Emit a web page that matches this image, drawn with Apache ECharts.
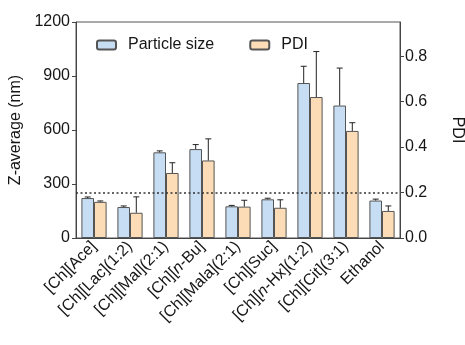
<!DOCTYPE html>
<html>
<head>
<meta charset="utf-8">
<script src="https://cdn.jsdelivr.net/npm/echarts@6/dist/echarts.min.js"></script>
<style>
  html, body { margin: 0; padding: 0; background: #fff; }
  #chart { width: 465px; height: 345px; }
</style>
</head>
<body>
<div id="chart"></div>
<script>
var categories = ['[Ch][Ace]', '[Ch][Lac](1:2)', '[Ch][Mal](2:1)', '[Ch][{i|n}-Bu]', '[Ch][Mala](2:1)',
    '[Ch][Suc]', '[Ch][{i|n}-Hx](1:2)', '[Ch][Cit](3:1)', 'Ethanol'];
var sizeValues = [222, 172, 476, 494, 176, 215, 861, 736, 208];
var sizeErrors = [6, 6, 8, 25, 5, 6, 93, 208, 8];
var pdiValues = [0.159, 0.111, 0.286, 0.341, 0.138, 0.133, 0.620, 0.471, 0.119];
var pdiErrors = [0.004, 0.07, 0.045, 0.095, 0.028, 0.035, 0.2, 0.036, 0.022];
var leftTicks = [0, 300, 600, 900, 1200];
var rightTicks = [0, 0.2, 0.4, 0.6, 0.8];
var pdiLimit = 0.2;

var chart = echarts.init(document.getElementById('chart'));
var barW = 12.6;
var font = 'Liberation Sans, Arial, sans-serif';
var ink = '#161616';

function errData(vals, errs) {
    return vals.map(function (v, i) { return [i, v, errs[i]]; });
}

// upper half of an error bar, drawn from the top of the bar
function errorBar(shift) {
    return function (params, api) {
        var i = api.value(0);
        var top = api.coord([i, api.value(1) + api.value(2)]);
        var base = api.coord([i, api.value(1)]);
        var x = base[0] + shift;
        var style = { stroke: '#222', lineWidth: 1 };
        return {
            type: 'group',
            children: [
                { type: 'line', shape: { x1: x, y1: base[1], x2: x, y2: top[1] }, style: style },
                { type: 'line', shape: { x1: x - 3, y1: top[1], x2: x + 3, y2: top[1] }, style: style }
            ]
        };
    };
}

var option = {
    animation: false,
    textStyle: { fontFamily: font },
    grid: {
        left: 76, right: 65, top: 22, bottom: 107,
        outerBoundsMode: 'none',
        show: true, borderColor: '#555', borderWidth: 1
    },
    legend: {
        left: 91, top: 32,
        itemWidth: 19, itemHeight: 9, itemGap: 35,
        textStyle: { fontSize: 16, color: ink, fontFamily: font, padding: [0, 0, 0, 7] },
        data: ['Particle size', 'PDI']
    },
    xAxis: {
        type: 'category',
        data: categories,
        axisLine: { lineStyle: { color: '#444' } },
        axisTick: { alignWithLabel: true, length: 5, lineStyle: { color: '#444' } },
        axisLabel: {
            rotate: 45, margin: 6, fontSize: 16, color: ink, interval: 0,
            rich: { i: { fontStyle: 'italic', fontSize: 16, color: ink } }
        }
    },
    yAxis: [
        {
            type: 'value', min: 0, max: 1200, interval: 300,
            name: 'Z-average (nm)', nameLocation: 'middle', nameGap: 48,
            nameTextStyle: { fontSize: 16, color: ink },
            splitLine: { show: false },
            axisLine: { show: true, lineStyle: { color: '#444' } },
            axisTick: { show: true, length: 4, lineStyle: { color: '#444' } },
            axisLabel: {
                fontSize: 16, color: ink, margin: 6, customValues: leftTicks,
                formatter: function (v) { return String(v); }
            }
        },
        {
            type: 'value', min: 0, max: 0.95, interval: 0.2,
            name: 'PDI', nameLocation: 'middle', nameGap: 49, nameRotate: -90,
            nameTextStyle: { fontSize: 16, color: ink },
            splitLine: { show: false },
            axisLine: { show: true, lineStyle: { color: '#444' } },
            axisTick: { show: true, length: 4, lineStyle: { color: '#444' }, customValues: rightTicks },
            axisLabel: {
                fontSize: 16, color: ink, margin: 5, customValues: rightTicks,
                formatter: function (v) { return v.toFixed(1); }
            }
        }
    ],
    series: [
        {
            name: 'limit', type: 'line', yAxisIndex: 1, data: [], z: 1,
            markLine: {
                silent: true, symbol: 'none', label: { show: false },
                lineStyle: { type: [2, 2.5], color: '#333', width: 1.5 },
                data: [{ yAxis: pdiLimit }]
            }
        },
        {
            name: 'Particle size', type: 'bar', yAxisIndex: 0, data: sizeValues,
            barWidth: barW, barGap: '0%', z: 3,
            itemStyle: { color: '#c6ddf3', borderColor: '#555', borderWidth: 1 }
        },
        {
            name: 'PDI', type: 'bar', yAxisIndex: 1, data: pdiValues,
            barWidth: barW, barGap: '0%', z: 3,
            itemStyle: { color: '#fbdcb6', borderColor: '#555', borderWidth: 1 }
        },
        {
            type: 'custom', yAxisIndex: 0, z: 4, data: errData(sizeValues, sizeErrors),
            renderItem: errorBar(-barW / 2), encode: { x: 0, y: 1 }
        },
        {
            type: 'custom', yAxisIndex: 1, z: 4, data: errData(pdiValues, pdiErrors),
            renderItem: errorBar(barW / 2), encode: { x: 0, y: 1 }
        }
    ]
};
chart.setOption(option);
</script>
</body>
</html>
